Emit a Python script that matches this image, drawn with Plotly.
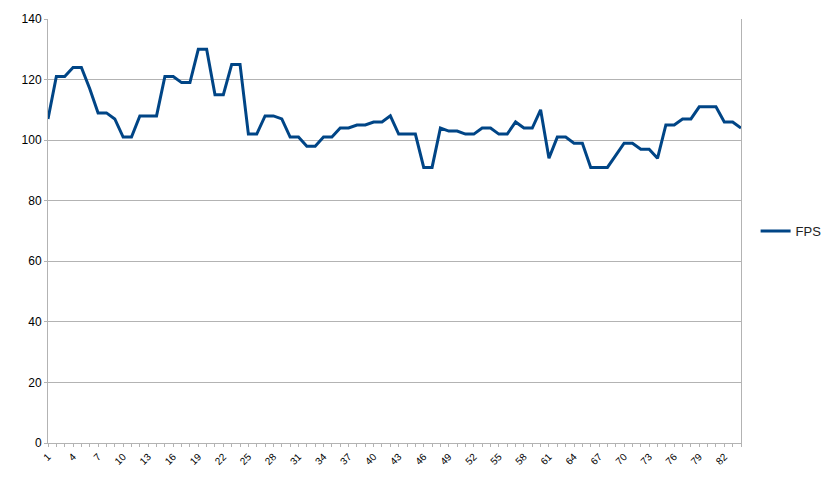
import plotly.graph_objects as go

frames = list(range(1, 85))
fps = [107, 121, 121, 124, 124, 117, 109, 109, 107, 101,
       101, 108, 108, 108, 121, 121, 119, 119, 130, 130,
       115, 115, 125, 125, 102, 102, 108, 108, 107, 101,
       101, 98, 98, 101, 101, 104, 104, 105, 105, 106,
       106, 108, 102, 102, 102, 91, 91, 104, 103, 103,
       102, 102, 104, 104, 102, 102, 106, 104, 104, 110,
       94, 101, 101, 99, 99, 91, 91, 91, 95, 99,
       99, 97, 97, 94, 105, 105, 107, 107, 111, 111,
       111, 106, 106, 104]
x_ticks = list(range(1, 85, 3))
y_ticks = [0, 20, 40, 60, 80, 100, 120, 140]

fig = go.Figure()
fig.add_trace(go.Scatter(x=frames, y=fps, mode="lines", name="FPS",
                         line=dict(color="#004586", width=3)))

grid = "#b3b3b3"
fig.update_layout(
    width=834, height=483,
    margin=dict(l=48, r=93, t=17, b=40),
    paper_bgcolor="white", plot_bgcolor="white",
    font=dict(family="Liberation Sans, Arial, sans-serif", color="black", size=12),
    showlegend=True,
    legend=dict(xref="container", x=0.906, y=0.5, xanchor="left", yanchor="middle",
                font=dict(size=13, color="#222")),
    xaxis=dict(range=[1, 84], tickmode="array", tickvals=x_ticks,
               ticktext=[str(v) for v in x_ticks], tickangle=-45,
               tickfont=dict(size=10), showgrid=False, zeroline=False,
               showline=True, linecolor=grid, linewidth=1,
               ticks="outside", ticklen=3, tickcolor=grid,
               minor=dict(dtick=1, tick0=1, ticks="outside", ticklen=3,
                          tickcolor=grid)),
    yaxis=dict(range=[0, 140], tickvals=y_ticks, showgrid=True,
               gridcolor=grid, gridwidth=1, zeroline=False,
               showline=True, linecolor=grid, linewidth=1, mirror=True,
               ticks="outside", ticklen=3, tickcolor=grid,
               tickfont=dict(size=12)),
)
fig.write_html("out.html")
